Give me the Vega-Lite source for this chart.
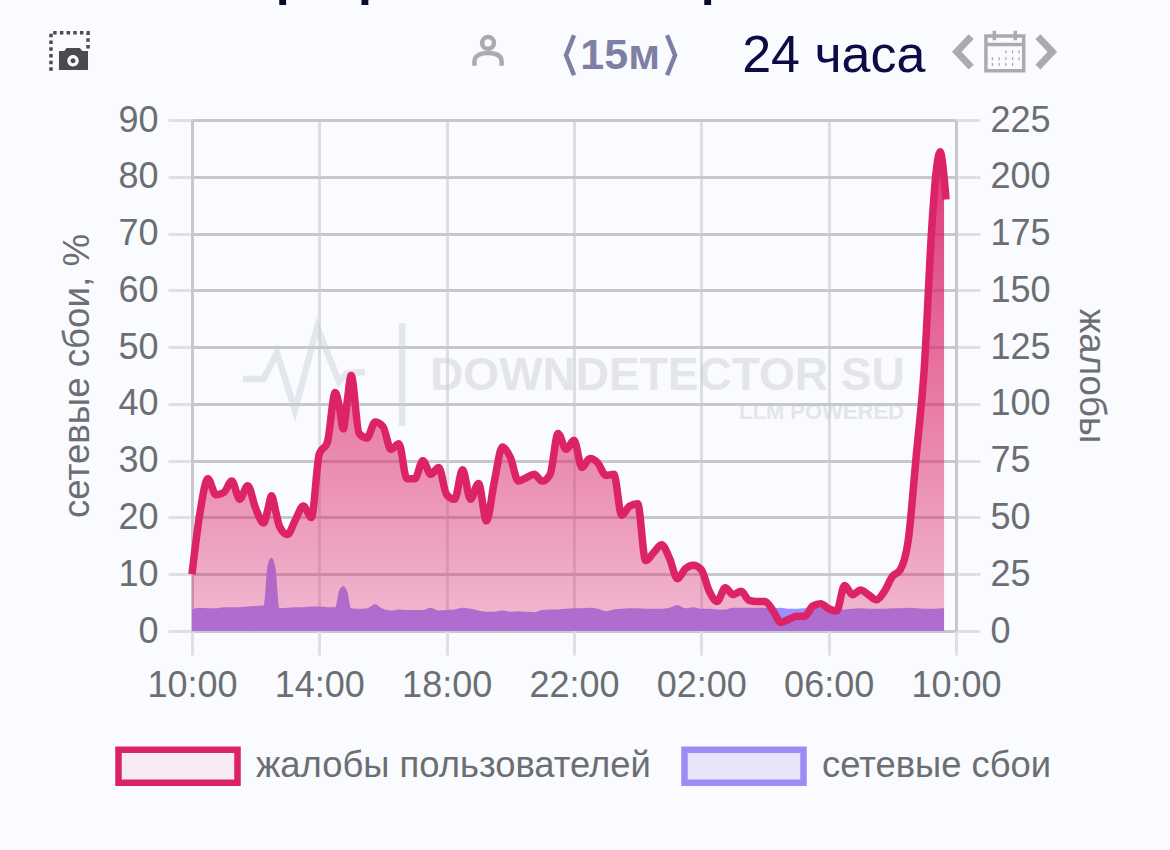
{"$schema":"https://vega.github.io/schema/vega-lite/v6.json","width":764,"height":511,"autosize":"none","padding":{"left":192,"top":120,"right":214,"bottom":219},"background":"#fafbfe","config":{"view":{"stroke":null},"font":"Liberation Sans","axis":{"labelFont":"Liberation Sans","titleFont":"Liberation Sans","labelColor":"#6b6e72","titleColor":"#6b6e72","labelFontSize":36,"titleFontSize":36.7,"titleFontWeight":"normal","tickSize":24,"tickWidth":3,"tickColor":"#dfe0e3","labelPadding":10,"labelOverlap":false,"labelFlush":false}},"datasets":{"series":[{"time":"2024-03-01T10:00:00Z","complaints":25,"outages":3.8},{"time":"2024-03-01T10:15:00Z","complaints":52,"outages":4.1},{"time":"2024-03-01T10:30:00Z","complaints":67,"outages":4.0},{"time":"2024-03-01T10:45:00Z","complaints":60,"outages":4.0},{"time":"2024-03-01T11:00:00Z","complaints":61,"outages":4.2},{"time":"2024-03-01T11:15:00Z","complaints":66,"outages":4.2},{"time":"2024-03-01T11:30:00Z","complaints":58,"outages":4.2},{"time":"2024-03-01T11:45:00Z","complaints":64,"outages":4.3},{"time":"2024-03-01T12:00:00Z","complaints":54,"outages":4.4},{"time":"2024-03-01T12:15:00Z","complaints":47.5,"outages":4.5},{"time":"2024-03-01T12:22:30Z","complaints":53,"outages":11.6},{"time":"2024-03-01T12:30:00Z","complaints":59.5,"outages":12.9},{"time":"2024-03-01T12:37:30Z","complaints":53,"outages":11},{"time":"2024-03-01T12:45:00Z","complaints":46,"outages":4.0},{"time":"2024-03-01T13:00:00Z","complaints":42.5,"outages":4.1},{"time":"2024-03-01T13:15:00Z","complaints":49,"outages":4.2},{"time":"2024-03-01T13:30:00Z","complaints":55,"outages":4.2},{"time":"2024-03-01T13:45:00Z","complaints":50,"outages":4.3},{"time":"2024-03-01T14:00:00Z","complaints":78,"outages":4.3},{"time":"2024-03-01T14:15:00Z","complaints":83,"outages":4.2},{"time":"2024-03-01T14:30:00Z","complaints":105,"outages":4.2},{"time":"2024-03-01T14:37:30Z","complaints":99,"outages":7.2},{"time":"2024-03-01T14:45:00Z","complaints":89,"outages":7.9},{"time":"2024-03-01T14:52:30Z","complaints":101,"outages":7.0},{"time":"2024-03-01T15:00:00Z","complaints":112.5,"outages":4.0},{"time":"2024-03-01T15:15:00Z","complaints":87,"outages":3.9},{"time":"2024-03-01T15:30:00Z","complaints":85,"outages":4.0},{"time":"2024-03-01T15:45:00Z","complaints":92,"outages":4.7},{"time":"2024-03-01T16:00:00Z","complaints":90,"outages":3.9},{"time":"2024-03-01T16:15:00Z","complaints":80,"outages":3.6},{"time":"2024-03-01T16:30:00Z","complaints":82.5,"outages":3.8},{"time":"2024-03-01T16:45:00Z","complaints":67,"outages":3.7},{"time":"2024-03-01T17:00:00Z","complaints":67,"outages":3.7},{"time":"2024-03-01T17:15:00Z","complaints":75,"outages":3.7},{"time":"2024-03-01T17:30:00Z","complaints":69,"outages":4.1},{"time":"2024-03-01T17:45:00Z","complaints":72,"outages":3.6},{"time":"2024-03-01T18:00:00Z","complaints":60,"outages":3.7},{"time":"2024-03-01T18:15:00Z","complaints":58,"outages":3.8},{"time":"2024-03-01T18:30:00Z","complaints":71,"outages":4.1},{"time":"2024-03-01T18:45:00Z","complaints":58,"outages":3.9},{"time":"2024-03-01T19:00:00Z","complaints":65,"outages":3.6},{"time":"2024-03-01T19:15:00Z","complaints":48.5,"outages":3.4},{"time":"2024-03-01T19:30:00Z","complaints":66,"outages":3.4},{"time":"2024-03-01T19:45:00Z","complaints":81,"outages":3.6},{"time":"2024-03-01T20:00:00Z","complaints":76.5,"outages":3.4},{"time":"2024-03-01T20:15:00Z","complaints":66,"outages":3.5},{"time":"2024-03-01T20:30:00Z","complaints":67.5,"outages":3.4},{"time":"2024-03-01T20:45:00Z","complaints":69,"outages":3.3},{"time":"2024-03-01T21:00:00Z","complaints":66,"outages":3.7},{"time":"2024-03-01T21:15:00Z","complaints":69,"outages":3.8},{"time":"2024-03-01T21:30:00Z","complaints":87,"outages":3.8},{"time":"2024-03-01T21:45:00Z","complaints":80,"outages":3.9},{"time":"2024-03-01T22:00:00Z","complaints":84,"outages":4.0},{"time":"2024-03-01T22:15:00Z","complaints":72,"outages":4.0},{"time":"2024-03-01T22:30:00Z","complaints":76,"outages":4.1},{"time":"2024-03-01T22:45:00Z","complaints":74,"outages":3.9},{"time":"2024-03-01T23:00:00Z","complaints":68.5,"outages":3.5},{"time":"2024-03-01T23:15:00Z","complaints":69,"outages":3.8},{"time":"2024-03-01T23:30:00Z","complaints":51,"outages":3.9},{"time":"2024-03-01T23:45:00Z","complaints":55,"outages":4.0},{"time":"2024-03-02T00:00:00Z","complaints":56,"outages":4.0},{"time":"2024-03-02T00:15:00Z","complaints":31,"outages":3.9},{"time":"2024-03-02T00:30:00Z","complaints":34.5,"outages":3.9},{"time":"2024-03-02T00:45:00Z","complaints":38,"outages":3.9},{"time":"2024-03-02T01:00:00Z","complaints":32,"outages":4.1},{"time":"2024-03-02T01:15:00Z","complaints":23,"outages":4.6},{"time":"2024-03-02T01:30:00Z","complaints":27.5,"outages":4.0},{"time":"2024-03-02T01:45:00Z","complaints":29,"outages":4.2},{"time":"2024-03-02T02:00:00Z","complaints":27,"outages":3.9},{"time":"2024-03-02T02:15:00Z","complaints":17.5,"outages":3.9},{"time":"2024-03-02T02:30:00Z","complaints":13,"outages":3.8},{"time":"2024-03-02T02:45:00Z","complaints":19,"outages":3.8},{"time":"2024-03-02T03:00:00Z","complaints":16,"outages":4.1},{"time":"2024-03-02T03:15:00Z","complaints":17.5,"outages":4.1},{"time":"2024-03-02T03:30:00Z","complaints":13.5,"outages":4.1},{"time":"2024-03-02T03:45:00Z","complaints":13,"outages":4.1},{"time":"2024-03-02T04:00:00Z","complaints":13,"outages":4.1},{"time":"2024-03-02T04:15:00Z","complaints":9,"outages":4.0},{"time":"2024-03-02T04:30:00Z","complaints":3.8,"outages":4.1},{"time":"2024-03-02T04:45:00Z","complaints":5.2,"outages":3.9},{"time":"2024-03-02T05:00:00Z","complaints":6.5,"outages":3.9},{"time":"2024-03-02T05:15:00Z","complaints":6.5,"outages":4.0},{"time":"2024-03-02T05:30:00Z","complaints":11,"outages":4.1},{"time":"2024-03-02T05:45:00Z","complaints":12,"outages":4.1},{"time":"2024-03-02T06:00:00Z","complaints":9.8,"outages":3.9},{"time":"2024-03-02T06:15:00Z","complaints":8.8,"outages":3.8},{"time":"2024-03-02T06:30:00Z","complaints":20,"outages":3.8},{"time":"2024-03-02T06:45:00Z","complaints":16,"outages":3.9},{"time":"2024-03-02T07:00:00Z","complaints":18,"outages":4.0},{"time":"2024-03-02T07:15:00Z","complaints":16,"outages":3.9},{"time":"2024-03-02T07:30:00Z","complaints":13.8,"outages":3.9},{"time":"2024-03-02T07:45:00Z","complaints":17.5,"outages":3.9},{"time":"2024-03-02T08:00:00Z","complaints":24,"outages":4.0},{"time":"2024-03-02T08:15:00Z","complaints":27,"outages":4.0},{"time":"2024-03-02T08:30:00Z","complaints":40,"outages":4.1},{"time":"2024-03-02T08:45:00Z","complaints":77,"outages":4.0},{"time":"2024-03-02T09:00:00Z","complaints":115,"outages":3.9},{"time":"2024-03-02T09:15:00Z","complaints":180,"outages":3.9},{"time":"2024-03-02T09:22:30Z","complaints":202,"outages":3.9},{"time":"2024-03-02T09:30:00Z","complaints":211,"outages":4.0},{"time":"2024-03-02T09:37:30Z","complaints":200,"outages":4.0},{"time":"2024-03-02T09:41:15Z","complaints":190,"outages":null}],"logo":[{"time":"2024-03-01T11:36:00Z","v":44.4,"part":"pulse"},{"time":"2024-03-01T12:15:00Z","v":44.4,"part":"pulse"},{"time":"2024-03-01T12:40:00Z","v":49,"part":"pulse"},{"time":"2024-03-01T13:14:00Z","v":38.9,"part":"pulse"},{"time":"2024-03-01T13:56:00Z","v":53.5,"part":"pulse"},{"time":"2024-03-01T14:37:00Z","v":43.9,"part":"pulse"},{"time":"2024-03-01T14:52:00Z","v":45.4,"part":"pulse"},{"time":"2024-03-01T15:26:00Z","v":45.6,"part":"pulse"},{"time":"2024-03-01T16:36:00Z","v":54.2,"part":"bar"},{"time":"2024-03-01T16:36:00Z","v":36.1,"part":"bar"}],"legendRows":[{"series":"жалобы пользователей"},{"series":"сетевые сбои"}]},"layer":[{"data":{"name":"logo"},"mark":{"type":"line","strokeWidth":6.5,"color":"#c8ccd6","opacity":0.45,"clip":false},"encoding":{"x":{"field":"time","type":"temporal","scale":{"type":"utc","domain":["2024-03-01T10:00:00Z","2024-03-02T10:00:00Z"]},"axis":{"values":["2024-03-01T10:00:00Z","2024-03-01T14:00:00Z","2024-03-01T18:00:00Z","2024-03-01T22:00:00Z","2024-03-02T02:00:00Z","2024-03-02T06:00:00Z","2024-03-02T10:00:00Z"],"format":"%H:%M","title":null,"domain":false,"grid":true,"gridColor":"#dcdee2","gridWidth":3,"labelPadding":13}},"y":{"field":"v","type":"quantitative","scale":{"domain":[0,90]},"axis":null},"detail":{"field":"part"}}},{"data":{"values":[{"time":"2024-03-02T00:56:00Z","v":45,"label":"DOWNDETECTOR SU"}]},"mark":{"type":"text","font":"Liberation Sans","fontWeight":"bold","fontSize":46,"color":"#c8ccd6","opacity":0.45,"align":"center","baseline":"middle"},"encoding":{"x":{"field":"time","type":"temporal"},"y":{"field":"v","type":"quantitative","scale":{"domain":[0,90]},"axis":null},"text":{"field":"label"}}},{"data":{"values":[{"time":"2024-03-02T08:22:00Z","v":38.6,"label":"LLM POWERED"}]},"mark":{"type":"text","font":"Liberation Sans","fontWeight":"bold","fontSize":22,"color":"#c8ccd6","opacity":0.45,"align":"right","baseline":"middle"},"encoding":{"x":{"field":"time","type":"temporal"},"y":{"field":"v","type":"quantitative","scale":{"domain":[0,90]},"axis":null},"text":{"field":"label"}}},{"data":{"name":"series"},"mark":{"type":"area","interpolate":"monotone","color":"#9c8fff"},"encoding":{"x":{"field":"time","type":"temporal"},"y":{"field":"outages","type":"quantitative","scale":{"domain":[0,90]},"axis":{"orient":"left","values":[0,10,20,30,40,50,60,70,80,90],"title":"сетевые сбои, %","titlePadding":21,"domain":true,"domainColor":"#c6c8cc","domainWidth":3,"grid":true,"gridColor":"#c6c8cc","gridWidth":3}}}},{"data":{"name":"series"},"transform":[{"filter":"datum.outages != null"}],"mark":{"type":"area","interpolate":"monotone","fill":{"gradient":"linear","x1":0,"y1":0,"x2":0,"y2":1,"stops":[{"offset":0,"color":"rgba(219,34,105,0.9)"},{"offset":1,"color":"rgba(219,34,105,0.3)"}]}},"encoding":{"x":{"field":"time","type":"temporal"},"y":{"field":"complaints","type":"quantitative","scale":{"domain":[0,225]},"axis":null}}},{"data":{"name":"series"},"mark":{"type":"line","interpolate":"monotone","color":"#dc2367","strokeWidth":7.5},"encoding":{"x":{"field":"time","type":"temporal"},"y":{"field":"complaints","type":"quantitative","scale":{"domain":[0,225]},"axis":{"orient":"right","values":[0,25,50,75,100,125,150,175,200,225],"title":"жалобы","titlePadding":21,"domain":true,"domainColor":"#c6c8cc","domainWidth":3,"grid":false}}}},{"data":{"values":[{"time":"2024-03-02T03:17:00Z","v":101.3,"label":"24 часа"}]},"mark":{"type":"text","font":"Liberation Sans","fontSize":52,"color":"#0b0b45","align":"left","baseline":"middle"},"encoding":{"x":{"field":"time","type":"temporal"},"y":{"field":"v","type":"quantitative","scale":{"domain":[0,90]},"axis":null},"text":{"field":"label"}}},{"data":{"values":[{"time":"2024-03-01T23:27:00Z","v":101.3,"label":"15м"}]},"mark":{"type":"text","font":"Liberation Sans","fontWeight":"bold","fontSize":43,"color":"#7d7fa5","align":"center","baseline":"middle"},"encoding":{"x":{"field":"time","type":"temporal"},"y":{"field":"v","type":"quantitative","scale":{"domain":[0,90]},"axis":null},"text":{"field":"label"}}},{"data":{"values":[{"time":"2024-03-01T12:38:00Z","v":112,"label":"р"},{"time":"2024-03-01T15:13:00Z","v":112,"label":"р"},{"time":"2024-03-02T01:59:00Z","v":112,"label":"р"}]},"mark":{"type":"text","font":"Liberation Sans","fontWeight":"bold","fontSize":50,"color":"#0b0b2a","align":"left","baseline":"alphabetic"},"encoding":{"x":{"field":"time","type":"temporal"},"y":{"field":"v","type":"quantitative","scale":{"domain":[0,90]},"axis":null},"text":{"field":"label"}}},{"data":{"values":[{"time":"2024-03-01T21:52:30Z","v":101.4}]},"mark":{"type":"point","shape":"M0.2,-1L-0.2,0L0.2,1","size":1600,"filled":false,"stroke":"#7d7fa5","strokeWidth":4.5,"opacity":1},"encoding":{"x":{"field":"time","type":"temporal"},"y":{"field":"v","type":"quantitative","scale":{"domain":[0,90]},"axis":null}}},{"data":{"values":[{"time":"2024-03-02T01:03:00Z","v":101.4}]},"mark":{"type":"point","shape":"M-0.2,-1L0.2,0L-0.2,1","size":1600,"filled":false,"stroke":"#7d7fa5","strokeWidth":4.5,"opacity":1},"encoding":{"x":{"field":"time","type":"temporal"},"y":{"field":"v","type":"quantitative","scale":{"domain":[0,90]},"axis":null}}},{"data":{"values":[{"time":"2024-03-01T19:18:00Z","v":101.8}]},"mark":{"type":"point","shape":"M0.37,-0.63A0.37,0.37 0 1 1 -0.37,-0.63A0.37,0.37 0 1 1 0.37,-0.63ZM-0.85,0.8V0.55C-0.85,0.1 -0.4,0 0,0C0.4,0 0.85,0.1 0.85,0.55V0.8","size":1024,"filled":false,"stroke":"#a9abad","strokeWidth":4.5,"opacity":1},"encoding":{"x":{"field":"time","type":"temporal"},"y":{"field":"v","type":"quantitative","scale":{"domain":[0,90]},"axis":null}}},{"data":{"values":[{"time":"2024-03-02T10:15:00Z","v":102}]},"mark":{"type":"point","shape":"M0.4,-0.85L-0.4,0L0.4,0.85","size":1296,"filled":false,"stroke":"#a9abad","strokeWidth":7,"opacity":1},"encoding":{"x":{"field":"time","type":"temporal"},"y":{"field":"v","type":"quantitative","scale":{"domain":[0,90]},"axis":null}}},{"data":{"values":[{"time":"2024-03-02T12:48:00Z","v":102}]},"mark":{"type":"point","shape":"M-0.4,-0.85L0.4,0L-0.4,0.85","size":1296,"filled":false,"stroke":"#a9abad","strokeWidth":7,"opacity":1},"encoding":{"x":{"field":"time","type":"temporal"},"y":{"field":"v","type":"quantitative","scale":{"domain":[0,90]},"axis":null}}},{"data":{"values":[{"time":"2024-03-02T11:32:00Z","v":102}]},"mark":{"type":"point","shape":"M-0.9,-0.75H0.9V0.9H-0.9ZM-0.9,-0.35H0.9M-0.5,-1V-0.55M0.5,-1V-0.55","size":1764,"filled":false,"stroke":"#a9abad","strokeWidth":3.5,"opacity":1},"encoding":{"x":{"field":"time","type":"temporal"},"y":{"field":"v","type":"quantitative","scale":{"domain":[0,90]},"axis":null}}},{"data":{"values":[{"time":"2024-03-02T11:32:00Z","v":102}]},"mark":{"type":"point","shape":"M0.02,0H0.08M0.34,0H0.4M0.65,0H0.71M-0.62,0.33H-0.56M-0.3,0.33H-0.24M0.02,0.33H0.08M0.34,0.33H0.4M0.65,0.33H0.71M-0.62,0.6H-0.56M-0.3,0.6H-0.24M0.02,0.6H0.08M0.34,0.6H0.4","size":1764,"filled":false,"stroke":"#a9abad","strokeWidth":3,"opacity":1},"encoding":{"x":{"field":"time","type":"temporal"},"y":{"field":"v","type":"quantitative","scale":{"domain":[0,90]},"axis":null}}},{"data":{"values":[{"time":"2024-03-01T06:10:00Z","v":102}]},"mark":{"type":"point","shape":"M-1,1V-1H0.95V-0.1","size":1444,"filled":false,"stroke":"#4b4b4e","strokeWidth":3.5,"strokeDash":[3.5,3.2],"opacity":1},"encoding":{"x":{"field":"time","type":"temporal"},"y":{"field":"v","type":"quantitative","scale":{"domain":[0,90]},"axis":null}}},{"data":{"values":[{"time":"2024-03-01T06:10:00Z","v":102}]},"mark":{"type":"point","shape":"M-0.58,-0.05H-0.3L-0.18,-0.2H0.52L0.65,-0.05H0.95V0.95H-0.58ZM0.46,0.47A0.3,0.3 0 1 0 -0.14,0.47A0.3,0.3 0 1 0 0.46,0.47ZM0.29,0.47A0.13,0.13 0 1 1 0.03,0.47A0.13,0.13 0 1 1 0.29,0.47Z","size":1444,"filled":true,"fill":"#4b4b4e","strokeWidth":0,"opacity":1},"encoding":{"x":{"field":"time","type":"temporal"},"y":{"field":"v","type":"quantitative","scale":{"domain":[0,90]},"axis":null}}},{"data":{"name":"legendRows"},"mark":{"type":"point","filled":true,"size":0,"opacity":1},"encoding":{"stroke":{"field":"series","type":"nominal","scale":{"domain":["жалобы пользователей","сетевые сбои"],"range":["#da2266","#9d8cf5"]},"legend":{"title":null,"orient":"none","legendX":-77,"legendY":583,"direction":"horizontal","symbolType":"M-1,-0.277H1V0.277H-1Z","symbolSize":14161,"symbolStrokeWidth":6.5,"symbolOpacity":1,"labelFont":"Liberation Sans","labelFontSize":36.4,"labelColor":"#6b6e72","labelOffset":15,"columnPadding":20,"labelLimit":500,"padding":0}},"fill":{"field":"series","type":"nominal","scale":{"domain":["жалобы пользователей","сетевые сбои"],"range":["#f6ebf2","#e6e5fb"]},"legend":{"title":null,"orient":"none","legendX":-77,"legendY":583,"direction":"horizontal","symbolType":"M-1,-0.277H1V0.277H-1Z","symbolSize":14161,"symbolStrokeWidth":6.5,"symbolOpacity":1,"labelFont":"Liberation Sans","labelFontSize":36.4,"labelColor":"#6b6e72","labelOffset":15,"columnPadding":20,"labelLimit":500,"padding":0}}}}],"resolve":{"scale":{"y":"independent"},"axis":{"y":"independent"}}}
